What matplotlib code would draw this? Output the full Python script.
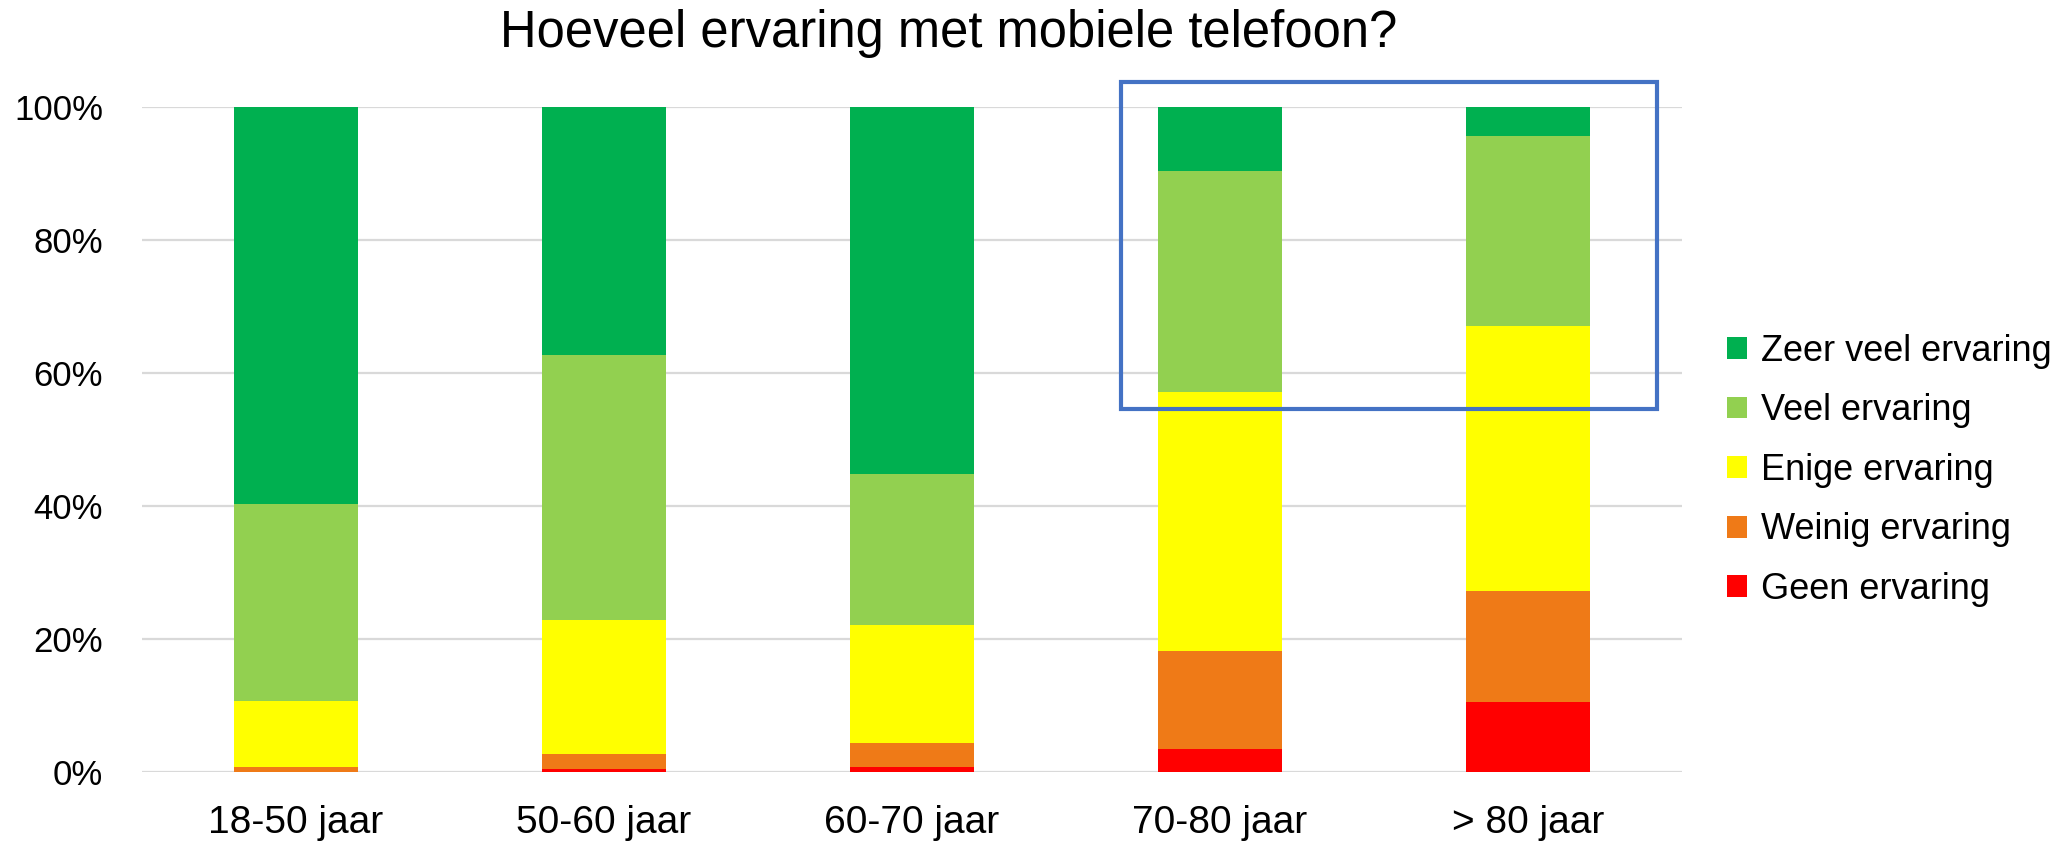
import matplotlib.pyplot as plt
from matplotlib.patches import Rectangle
from matplotlib.ticker import PercentFormatter

plt.rcParams["font.family"] = ["Liberation Sans", "DejaVu Sans"]

# Data (percent of respondents per age group)
categories = ["18-50 jaar", "50-60 jaar", "60-70 jaar", "70-80 jaar", "> 80 jaar"]
geen = [0.0, 0.4, 0.8, 3.5, 10.5]
weinig = [0.8, 2.3, 3.6, 14.7, 16.7]
enige = [9.8, 20.1, 17.7, 38.9, 39.9]
veel = [29.6, 39.9, 22.7, 33.2, 28.5]
zeer = [59.8, 37.3, 55.2, 9.7, 4.4]

series = [
    ("Geen ervaring", geen, "#FF0000"),
    ("Weinig ervaring", weinig, "#EF7A17"),
    ("Enige ervaring", enige, "#FFFF00"),
    ("Veel ervaring", veel, "#92D050"),
    ("Zeer veel ervaring", zeer, "#00B050"),
]

fig = plt.figure(figsize=(20.67, 8.46), dpi=100)
ax = fig.add_axes([0.0687, 0.0875, 0.745, 0.7865])

xs = range(len(categories))
bottom = [0.0] * len(categories)
handles = []
for label, vals, color in series:
    h = ax.bar(xs, vals, width=0.4, bottom=bottom, color=color, label=label, zorder=2)
    handles.append(h)
    bottom = [b + v for b, v in zip(bottom, vals)]

ax.set_xlim(-0.5, len(categories) - 0.5)
ax.set_ylim(0, 100)
ax.set_yticks([0, 20, 40, 60, 80, 100])
ax.yaxis.set_major_formatter(PercentFormatter(decimals=0))
ax.set_xticks(list(xs))
ax.set_xticklabels(categories)
ax.tick_params(axis="both", length=0)
ax.tick_params(axis="y", pad=28, labelsize=25)
ax.tick_params(axis="x", pad=24, labelsize=28)
ax.grid(axis="y", color="#D9D9D9", linewidth=1.6, zorder=0)
for side in ["top", "right", "left", "bottom"]:
    ax.spines[side].set_visible(False)

# highlight box around the two oldest groups
box = Rectangle((3 - 0.32, 54.5), 1.74, 49.2, fill=False, edgecolor="#4472C4",
                linewidth=3, clip_on=False, zorder=5)
ax.add_patch(box)

fig.text(0.459, 0.944, "Hoeveel ervaring met mobiele telefoon?", ha="center", va="baseline", size=36.5)

fig.legend(handles[::-1], [s[0] for s in series][::-1], loc="center left",
           bbox_to_anchor=(0.8355, 0.444), frameon=False, fontsize=26,
           borderpad=0, borderaxespad=0,
           handlelength=0.55, handleheight=0.55, handletextpad=0.4, labelspacing=0.68)

fig.savefig("out.png", dpi=100)
